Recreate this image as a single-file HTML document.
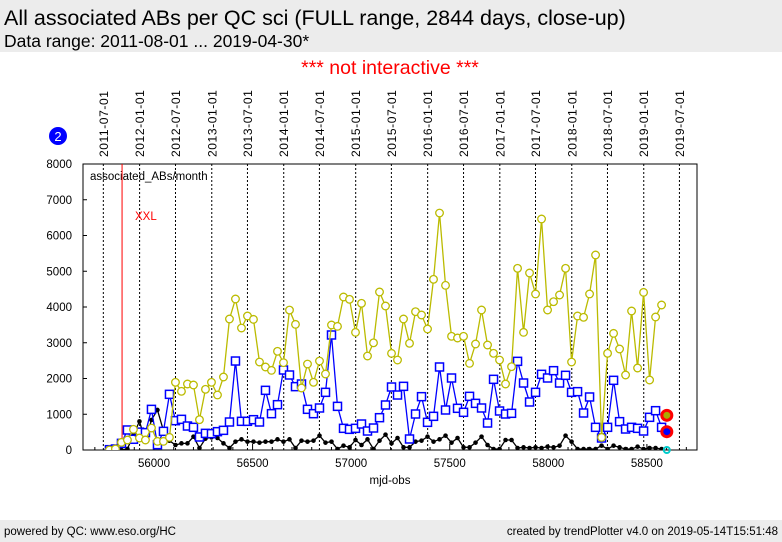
<!DOCTYPE html>
<html><head><meta charset="utf-8"><style>
body{margin:0;width:782px;height:542px;background:#fff;font-family:"Liberation Sans",sans-serif;overflow:hidden;position:relative}
.hdr{position:absolute;left:0;top:0;width:782px;height:52px;background:#ececec}
.t1{position:absolute;left:4px;top:6px;font-size:21.5px;color:#000}
.t2{position:absolute;left:4px;top:31px;font-size:17.5px;color:#000}
.ftr{position:absolute;left:0;top:520px;width:782px;height:22px;background:#ececec;font-size:11.5px}
</style></head><body>
<div class="hdr">
<div class="t1">All associated ABs per QC sci (FULL range, 2844 days, close-up)</div>
<div class="t2">Data range: 2011-08-01 ... 2019-04-30*</div>
</div>
<div class="ftr">
<span style="position:absolute;left:4px;top:6px">powered by QC: www.eso.org/HC</span>
<span style="position:absolute;right:4px;top:6px">created by trendPlotter v4.0 on 2019-05-14T15:51:48</span>
</div>
<svg id="chart" width="782" height="542" style="position:absolute;left:0;top:0" font-family="Liberation Sans, sans-serif"></svg>
<script>
const yellow=[0,28,214,280,578,336,280,615,242,242,354,1893,1641,1846,1818,848,1697,1893,1539,2042,3664,4224,3412,3748,3654,2461,2322,2228,2760,2443,3914,3515,1734,2405,1893,2489,2126,3497,3459,4280,4215,3291,4103,2629,2998,4420,4028,2703,
2517,3664,2984,3869,3776,3385,4774,6629,4606,3180,3133,3180,2424,2965,3916,2937,2704,2517,1846,2331,5082,3291,4951,4364,6462,3916,4149,4336,5082,2461,3748,3711,4364,5455,354,2704,3263,2825,2098,3888,2294,4410,1958,3720,4056];
const blue=[9,28,186,560,300,500,485,1137,150,522,1557,820,858,671,634,364,466,457,513,550,783,2489,802,802,848,783,1669,1016,1268,2238,2098,1772,1846,1138,1016,1175,1613,3217,1221,606,578,606,727,531,615,904,1259,1762,
1538,1781,308,1007,1492,774,942,2322,1119,2014,1166,1054,1501,1305,1175,755,1977,1091,1007,1026,2480,1874,1343,1613,2117,2014,2219,1874,2089,1613,1632,1035,1483,634,336,634,1949,793,587,634,606,531,914,1100,634];
const black=[0,0,0,30,430,800,260,840,1120,540,260,140,186,186,373,56,317,354,336,186,56,233,298,233,233,205,233,233,298,233,298,56,261,233,261,401,205,233,28,121,75,280,140,298,28,261,429,186,
336,75,75,233,261,373,233,298,401,205,336,75,75,205,373,140,28,28,280,280,56,75,56,75,56,93,75,121,401,233,28,28,28,28,121,28,121,75,28,28,93,28,56,56,28];
const yTicks=[0,1000,2000,3000,4000,5000,6000,7000,8000];
const xTicks=[56000,56500,57000,57500,58000,58500];
const dateLabels=["2011-07-01","2012-01-01","2012-07-01","2013-01-01","2013-07-01","2014-01-01","2014-07-01","2015-01-01","2015-07-01","2016-01-01","2016-07-01","2017-01-01","2017-07-01","2018-01-01","2018-07-01","2019-01-01","2019-07-01"];
const dateMjd=[55743,55927,56109,56293,56474,56658,56839,57023,57204,57388,57570,57754,57935,58119,58300,58484,58665];
const startMjd=55774, monthDays=30.44;
const lastMjd=58601, lastYellow=970, lastBlue=512, lastBlack=0;
const xxlMjd=55838;

const NS="http://www.w3.org/2000/svg";
const svg=document.getElementById('chart');
const L=83,R=697,T=164,B=450;
const X=m=>154+(m-56000)*0.19716;
const Y=v=>B-(v/8000)*(B-T);
function el(t,a,p){const e=document.createElementNS(NS,t);for(const k in a)e.setAttribute(k,a[k]);(p||svg).appendChild(e);return e;}
function txt(s,a){const e=el('text',a);e.textContent=s;return e;}

let e=txt('*** not interactive ***',{x:390,y:74,'text-anchor':'middle','font-size':19.5,fill:'#ff0000'});

e=el('circle',{cx:58,cy:136,r:9,fill:'#0000ff'});

e=txt('2',{x:58,y:141,'text-anchor':'middle','font-size':13,fill:'#fff'});


dateLabels.forEach((d,i)=>{
  const x=X(dateMjd[i]);
  const l=el('line',{x1:x,y1:T,x2:x,y2:B,stroke:'#000','stroke-width':1,'stroke-dasharray':'2,2'});
  
  const t=txt(d,{x:0,y:0,'font-size':12,'text-anchor':'start',transform:`translate(${x+4.5},157) rotate(-90)`,'letter-spacing':'0.6'});
  
});
e=el('rect',{x:L,y:T,width:R-L,height:B-T,fill:'none',stroke:'#000','stroke-width':1});

yTicks.forEach(v=>{
  const t=txt(String(v),{x:72,y:Y(v)+4,'text-anchor':'end','font-size':11.5});
  
  const l=el('line',{x1:L,y1:Y(v),x2:L+4,y2:Y(v),stroke:'#000'});
  
});
for(let m=55700;m<=58700;m+=100){
  const l=el('line',{x1:X(m),y1:B,x2:X(m),y2:B-(m%500===0?6:3),stroke:'#000'});
  
}
xTicks.forEach(m=>{
  const t=txt(String(m),{x:X(m),y:467,'text-anchor':'middle','font-size':11.5});
  
});
e=txt('mjd-obs',{x:390,y:484,'text-anchor':'middle','font-size':11.5});

e=txt('associated_ABs/month',{x:90,y:180,'font-size':11.5});

e=el('line',{x1:X(xxlMjd),y1:T,x2:X(xxlMjd),y2:B,stroke:'#ff0000','stroke-width':1});

e=txt('XXL',{x:135,y:220,'font-size':11.5,fill:'#ff0000'});


const clip=el('clipPath',{id:'cp'});el('rect',{x:L,y:T,width:R-L,height:B-T},clip);
function series(arr,color,name,mark){
  const g=el('g',{'clip-path':'url(#cp)'});
  
  const pts=arr.map((v,i)=>[X(startMjd+i*monthDays),Y(v)]);
  const pl=el('polyline',{points:pts.map(p=>p.join(',')).join(' '),fill:'none',stroke:color,'stroke-width':1.3},g);
  
  pts.forEach(p=>{
    let m;
    if(mark==='sq')m=el('rect',{x:p[0]-4,y:p[1]-4,width:8,height:8,fill:'#fff',stroke:color,'stroke-width':1.5},g);
    else if(mark==='c')m=el('circle',{cx:p[0],cy:p[1],r:3.8,fill:'#fff',stroke:color,'stroke-width':1.3},g);
    else m=el('circle',{cx:p[0],cy:p[1],r:2.3,fill:color},g);
    
  });
}
series(black,'#000000','black','d');
series(blue,'#0000ff','blue','sq');
series(yellow,'#bbbb00','yellow','c');
e=el('circle',{cx:X(lastMjd),cy:Y(lastYellow),r:5,fill:'#aaaa00',stroke:'#ff0000','stroke-width':3});

e=el('circle',{cx:X(lastMjd),cy:Y(lastBlue),r:5,fill:'#0000ff',stroke:'#ff0000','stroke-width':3});

e=el('circle',{cx:X(lastMjd),cy:Y(lastBlack),r:3,fill:'none',stroke:'#00cccc','stroke-width':2});

</script>
</body></html>
